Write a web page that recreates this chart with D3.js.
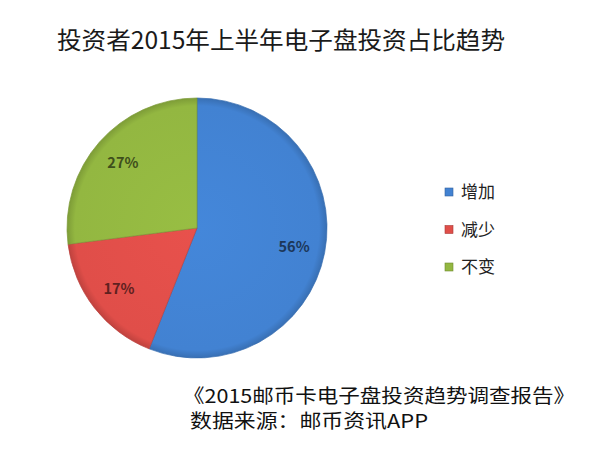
<!DOCTYPE html>
<html>
<head>
<meta charset="utf-8">
<script src="https://cdn.jsdelivr.net/npm/d3@7"></script>
<style>
  body { margin: 0; background: #fff; }
  text { font-family: "Noto Sans CJK SC", "Microsoft YaHei", sans-serif; }
</style>
</head>
<body>
<div id="chart"></div>
<script>
// chart data
let categories = ["增加", "减少", "不变"];
let shares = [56, 17, 27];
let colors = ["#4282d2", "#e04e49", "#93b741"];
let titleText = "投资者2015年上半年电子盘投资占比趋势";
let footLines = ["《2015邮币卡电子盘投资趋势调查报告》", "数据来源：邮币资讯APP"];

let width = 600, height = 457;
let cx = 197, cy = 228, radius = 130;

let svg = d3.select("#chart").append("svg")
    .attr("width", width)
    .attr("height", height);

let defs = svg.append("defs");

// light centre, darker rim, a bit like the bevel in the original
colors.forEach(function(c, i) {
    let g = defs.append("radialGradient")
        .attr("id", "grad" + i)
        .attr("gradientUnits", "userSpaceOnUse")
        .attr("cx", 0).attr("cy", 0).attr("r", radius);
    g.append("stop").attr("offset", "0%").attr("stop-color", d3.color(c).brighter(0.1));
    g.append("stop").attr("offset", "94%").attr("stop-color", c);
    g.append("stop").attr("offset", "100%").attr("stop-color", d3.color(c).darker(0.45));
});

// title
svg.append("text")
    .attr("x", 57)
    .attr("y", 49)
    .attr("font-size", 24)
    .attr("textLength", 448)
    .attr("lengthAdjust", "spacingAndGlyphs")
    .attr("fill", "#1a1a1a")
    .text(titleText);

// pie
let data = categories.map((d, i) => ({name: d, value: shares[i], color: colors[i], idx: i}));

let pie = d3.pie()
    .sort(null)
    .value(d => d.value);

let arc = d3.arc()
    .innerRadius(0)
    .outerRadius(radius);

let labelArc = d3.arc()
    .innerRadius(radius * 0.76)
    .outerRadius(radius * 0.76);

let pieG = svg.append("g")
    .attr("transform", "translate(" + cx + "," + cy + ")");

let arcs = pie(data);

pieG.selectAll("path")
    .data(arcs)
    .enter().append("path")
    .attr("d", arc)
    .attr("fill", d => "url(#grad" + d.data.idx + ")")
    .attr("stroke", d => d3.color(d.data.color).darker(0.5))
    .attr("stroke-width", 0.7);

pieG.selectAll("text")
    .data(arcs)
    .enter().append("text")
    .attr("transform", d => "translate(" + labelArc.centroid(d) + ")")
    .attr("text-anchor", "middle")
    .attr("dy", "0.36em")
    .attr("font-family", "DejaVu Sans, Verdana, sans-serif")
    .attr("font-size", 14.5)
    .attr("font-weight", "bold")
    .attr("fill", d => d3.color(d.data.color).darker(2.4))
    .text(d => d.data.value + "%");

// legend
let legend = svg.append("g")
    .attr("transform", "translate(445,192)");

let rows = legend.selectAll("g")
    .data(data)
    .enter().append("g")
    .attr("transform", (d, i) => "translate(0," + (i * 37.5) + ")");

rows.append("rect")
    .attr("x", 0).attr("y", -4)
    .attr("width", 8).attr("height", 8)
    .attr("fill", d => d.color)
    .attr("stroke", d => d3.color(d.color).darker(0.8))
    .attr("stroke-width", 0.6);

rows.append("text")
    .attr("x", 16)
    .attr("dy", "0.36em")
    .attr("font-size", 17)
    .attr("fill", "#222")
    .text(d => d.name);

// footer
svg.selectAll(".foot")
    .data(footLines)
    .enter().append("text")
    .attr("class", "foot")
    .attr("x", (d, i) => i == 0 ? 183 : 190)
    .attr("y", (d, i) => 403 + i * 25)
    .attr("font-size", 19)
    .attr("textLength", (d, i) => i == 0 ? 392 : 238)
    .attr("lengthAdjust", "spacingAndGlyphs")
    .attr("fill", "#111")
    .text(d => d);
</script>
</body>
</html>
